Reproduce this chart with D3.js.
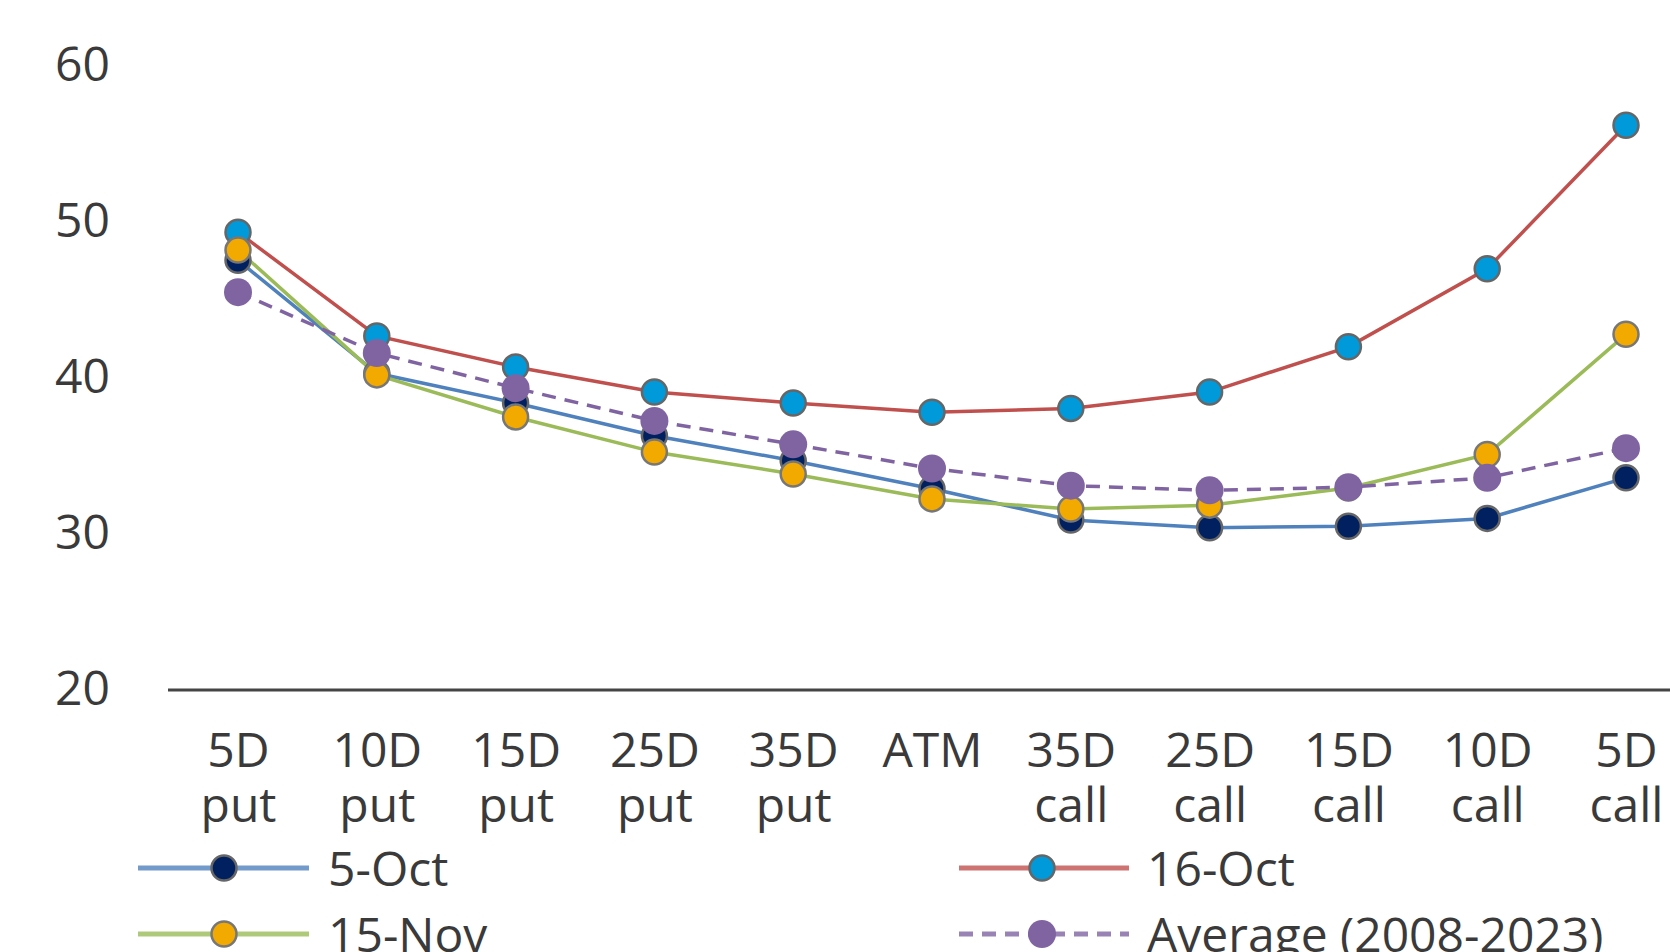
<!DOCTYPE html>
<html>
<head>
<meta charset="utf-8">
<script src="https://cdn.jsdelivr.net/npm/d3@7"></script>
<style>
  html, body { margin: 0; padding: 0; background: #ffffff; }
  svg { display: block; }
  text { font-family: "Open Sans", "Noto Sans", sans-serif; fill: #3a3a3a; }
</style>
</head>
<body>
<svg id="chart" width="1670" height="952"></svg>
<script>
// ---- data ----
const categories = ["5D put", "10D put", "15D put", "25D put", "35D put", "ATM",
                    "35D call", "25D call", "15D call", "10D call", "5D call"];
const oct5  = [47.55, 40.3, 38.4, 36.3, 34.7, 32.9, 30.9, 30.4, 30.5, 31.0, 33.6];
const oct16 = [49.35, 42.7, 40.7, 39.1, 38.4, 37.8, 38.05, 39.1, 42.0, 47.0, 56.2];
const nov15 = [48.2, 40.2, 37.5, 35.25, 33.85, 32.25, 31.6, 31.85, 32.95, 35.1, 42.8];
const avg   = [45.5, 41.6, 39.35, 37.25, 35.75, 34.2, 33.1, 32.8, 33.0, 33.6, 35.5];
const seriesNames = ["5-Oct", "16-Oct", "15-Nov", "Average (2008-2023)"];
const yTicks = [20, 30, 40, 50, 60];

// ---- styling ----
const styles = [
  { line: "#4f81bd", dot: "#002060", stroke: "#666", dash: null },
  { line: "#c0504d", dot: "#0099d9", stroke: "#666", dash: null },
  { line: "#9bbb59", dot: "#f2a900", stroke: "#777", dash: null },
  { line: "#8064a2", dot: "#8064a2", stroke: "none", dash: "14,9" }
];
const allSeries = [oct5, oct16, nov15, avg];
const FS = 48;

const svg = d3.select("#chart");
const x = d3.scalePoint().domain(categories).range([238, 1626]);
const y = d3.scaleLinear().domain([20, 60]).range([690, 66]);

// Y axis labels
const yAxis = d3.axisLeft(y).tickValues(yTicks).tickSize(0).tickPadding(0).tickFormat(d3.format("d"));
const gy = svg.append("g").attr("transform", "translate(110,0)").call(yAxis);
gy.select(".domain").remove();
gy.selectAll("text")
  .attr("font-size", FS)
  .attr("font-family", "'Open Sans', sans-serif")
  .attr("fill", "#3a3a3a")
  .attr("dy", null)
  .attr("y", 14)
  .attr("text-anchor", "end");

// baseline
svg.append("line")
  .attr("x1", 168).attr("x2", 1670)
  .attr("y1", y(20)).attr("y2", y(20))
  .attr("stroke", "#444").attr("stroke-width", 3);

// X axis labels
const xAxis = d3.axisBottom(x).tickSize(0).tickFormat(() => "");
const gx = svg.append("g").attr("transform", `translate(0,${y(20)})`).call(xAxis);
gx.select(".domain").remove();
gx.selectAll(".tick text").each(function(d) {
  const t = d3.select(this);
  t.text(null).attr("y", 0).attr("dy", null)
    .attr("font-size", FS)
    .attr("font-family", "'Open Sans', sans-serif")
    .attr("fill", "#3a3a3a")
    .attr("text-anchor", "middle");
  const parts = d.split(" ");
  parts.forEach((p, i) => {
    t.append("tspan").attr("x", 0).attr("y", 77 + i * 55).text(p);
  });
});

// lines
const line = d3.line().x((d, i) => x(categories[i])).y(d => y(d));
allSeries.forEach((s, k) => {
  svg.append("path")
    .datum(s)
    .attr("d", line)
    .attr("fill", "none")
    .attr("stroke", styles[k].line)
    .attr("stroke-width", 3.5)
    .attr("stroke-dasharray", styles[k].dash);
});

// dots
allSeries.forEach((s, k) => {
  svg.append("g").selectAll("circle")
    .data(s)
    .join("circle")
    .attr("cx", (d, i) => x(categories[i]))
    .attr("cy", d => y(d))
    .attr("r", styles[k].stroke === "none" ? 14 : 12.5)
    .attr("fill", styles[k].dot)
    .attr("stroke", styles[k].stroke)
    .attr("stroke-width", 2.5);
});

// legend
const legendPos = [
  { lx1: 138, lx2: 309, cx: 224, tx: 328, ly: 868 },
  { lx1: 959, lx2: 1129, cx: 1042, tx: 1147, ly: 868 },
  { lx1: 138, lx2: 309, cx: 224, tx: 328, ly: 934 },
  { lx1: 959, lx2: 1129, cx: 1042, tx: 1147, ly: 934 }
];
seriesNames.forEach((name, k) => {
  const p = legendPos[k];
  const g = svg.append("g");
  g.append("line")
    .attr("x1", p.lx1).attr("x2", p.lx2).attr("y1", p.ly).attr("y2", p.ly)
    .attr("stroke", styles[k].line).attr("stroke-width", 5)
    .attr("stroke-opacity", 0.8)
    .attr("stroke-dasharray", styles[k].dash);
  g.append("circle")
    .attr("cx", p.cx).attr("cy", p.ly)
    .attr("r", styles[k].stroke === "none" ? 14 : 12.5)
    .attr("fill", styles[k].dot)
    .attr("stroke", styles[k].stroke).attr("stroke-width", 2.5);
  g.append("text")
    .attr("x", p.tx).attr("y", p.ly + 18)
    .attr("font-size", FS)
    .attr("fill", "#3a3a3a")
    .text(name);
});
</script>
</body>
</html>
